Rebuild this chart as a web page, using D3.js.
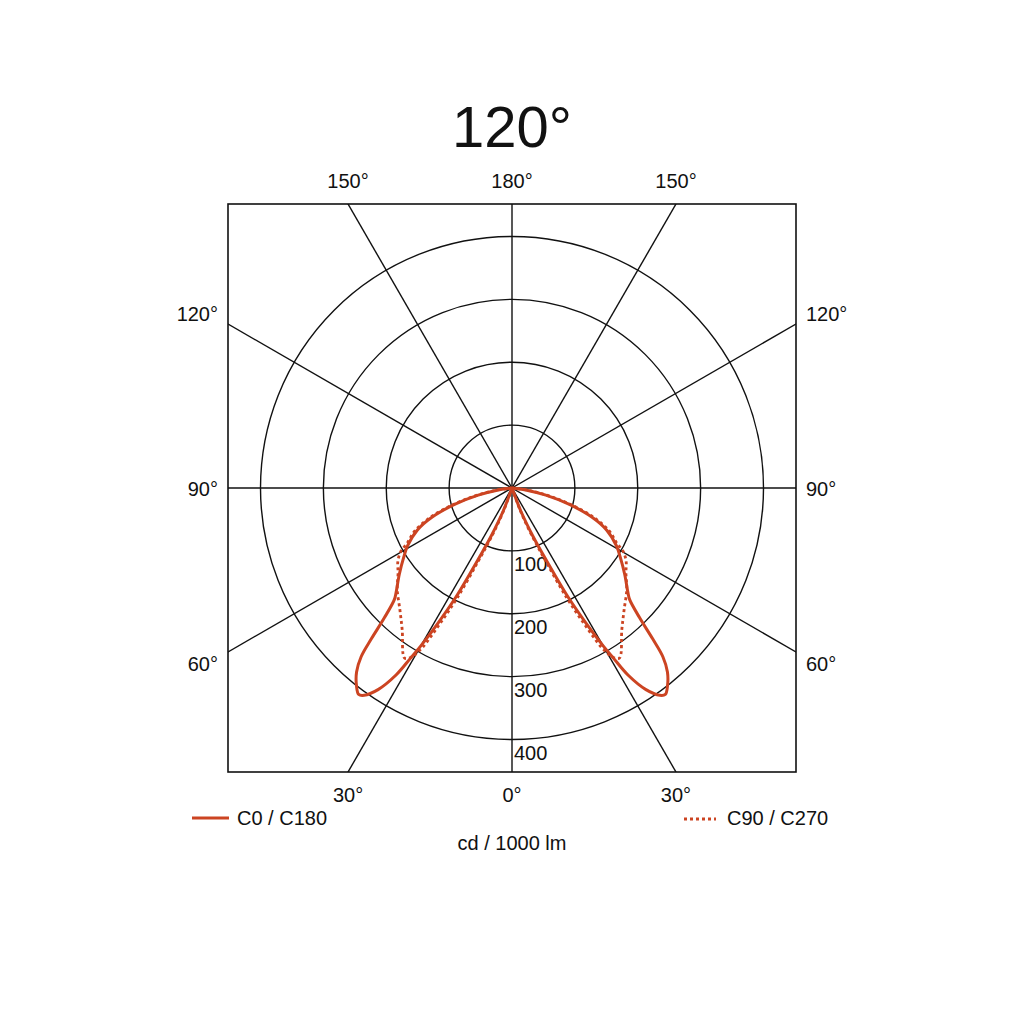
<!DOCTYPE html>
<html>
<head>
<meta charset="utf-8">
<script src="https://cdn.jsdelivr.net/npm/d3@7"></script>
<style>
  body { margin: 0; background: #fff; }
  text { font-family: "Liberation Sans", Arial, sans-serif; fill: #111; }
</style>
</head>
<body>
<div id="polar"></div>
<script>
// chart values
const title = "120°";
const gridValues = [100, 200, 300, 400];
const gridAngles = [0, 30, 60, 90, 120, 150];
const topLabels = ["150°", "180°", "150°"];
const sideLabels = ["120°", "90°", "60°"];
const bottomLabels = ["30°", "0°", "30°"];
const unitLabel = "cd / 1000 lm";
const seriesNames = ["C0 / C180", "C90 / C270"];

// gamma (deg from nadir) and intensity (cd/1000 lm), traced in order round each lobe
const c0Gamma = [20, 21, 23.5, 25.5, 27.2, 28.7, 30, 30.8, 31.8, 33.6, 35.5, 36.6, 38.2, 40.2, 41.8, 43, 44.5, 46.5, 48, 52.5, 57.5, 61, 66, 70, 74, 78, 82, 85];
const c0Values = [0, 40, 84, 130, 195, 245, 290, 315, 350, 385, 405, 409, 400, 383, 360, 328, 290, 258, 248, 226, 204, 190, 165, 135, 95, 55, 22, 0];
const c90Gamma = [19, 20.3, 22.8, 24.8, 26.5, 28, 29.3, 30.3, 31.1, 32.3, 37.8, 42.7, 48.4, 53.3, 57.2, 60.2, 62.3, 66, 70, 74, 78, 82, 86];
const c90Values = [0, 40, 84, 130, 195, 245, 290, 308, 316, 320, 285, 263, 244, 226, 216, 204, 188, 170, 140, 100, 60, 26, 0];

const width = 1024, height = 1024;
const cx = 512, cy = 488, half = 284;
const red = "#cc4422";
const rad = Math.PI / 180;

const svg = d3.select("#polar")
  .append("svg")
  .attr("width", width)
  .attr("height", height);

svg.append("defs").append("clipPath").attr("id", "box")
  .append("rect")
  .attr("x", cx - half).attr("y", cy - half)
  .attr("width", 2 * half).attr("height", 2 * half);

const r = d3.scaleLinear().domain([0, 400]).range([0, 251.5]);

const g = svg.append("g").attr("transform", "translate(" + cx + "," + cy + ")");

// grid circles
g.selectAll("circle.grid")
  .data(gridValues)
  .enter().append("circle")
  .attr("class", "grid")
  .attr("r", function (d) { return r(d); })
  .attr("fill", "none")
  .attr("stroke", "#111")
  .attr("stroke-width", 1.4);

// radial lines through the centre, clipped to the frame
svg.append("g")
  .attr("clip-path", "url(#box)")
  .append("g")
  .attr("transform", "translate(" + cx + "," + cy + ")")
  .selectAll("line")
  .data(gridAngles)
  .enter().append("line")
  .attr("x1", function (d) { return -600 * Math.sin(d * rad); })
  .attr("y1", function (d) { return 600 * Math.cos(d * rad); })
  .attr("x2", function (d) { return 600 * Math.sin(d * rad); })
  .attr("y2", function (d) { return -600 * Math.cos(d * rad); })
  .attr("stroke", "#111")
  .attr("stroke-width", 1.4);

svg.append("rect")
  .attr("x", cx - half).attr("y", cy - half)
  .attr("width", 2 * half).attr("height", 2 * half)
  .attr("fill", "none")
  .attr("stroke", "#111")
  .attr("stroke-width", 1.6);

const front = svg.append("g").attr("transform", "translate(" + cx + "," + cy + ")");

// value labels under each circle
front.selectAll("text.val")
  .data(gridValues)
  .enter().append("text")
  .attr("class", "val")
  .attr("x", 2)
  .attr("y", function (d) { return r(d) + 20; })
  .attr("font-size", 20)
  .text(function (d) { return d; });

// lobes: left half mirrors to angle pi+gamma, right half pi-gamma
function lobe(gammas, values, side) {
  return d3.lineRadial()
    .curve(d3.curveCatmullRom.alpha(0.5))
    .angle(function (d, i) { return Math.PI + side * gammas[i] * rad; })
    .radius(function (d) { return r(d); })(values);
}

[-1, 1].forEach(function (side) {
  front.append("path")
    .attr("d", lobe(c0Gamma, c0Values, side))
    .attr("fill", "none")
    .attr("stroke", red)
    .attr("stroke-width", 3)
    .attr("stroke-linejoin", "round");
  front.append("path")
    .attr("d", lobe(c90Gamma, c90Values, side))
    .attr("fill", "none")
    .attr("stroke", red)
    .attr("stroke-width", 2.8)
    .attr("stroke-dasharray", "3,3");
});

// angle labels round the frame
const sides = [-1, 0, 1];
svg.append("g").selectAll("text")
  .data(topLabels)
  .enter().append("text")
  .attr("text-anchor", "middle")
  .attr("font-size", 20)
  .attr("x", function (d, i) { return cx + sides[i] * half * Math.tan((180 - parseFloat(d)) * rad); })
  .attr("y", cy - half - 16)
  .text(function (d) { return d; });

svg.append("g").selectAll("text")
  .data(bottomLabels)
  .enter().append("text")
  .attr("text-anchor", "middle")
  .attr("font-size", 20)
  .attr("x", function (d, i) { return cx + sides[i] * half * Math.tan(parseFloat(d) * rad); })
  .attr("y", cy + half + 30)
  .text(function (d) { return d; });

[-1, 1].forEach(function (side) {
  svg.append("g").selectAll("text")
    .data(sideLabels)
    .enter().append("text")
    .attr("text-anchor", side < 0 ? "end" : "start")
    .attr("font-size", 20)
    .attr("x", cx + side * (half + 10))
    .attr("y", function (d) { return cy + 1.07 * half * Math.tan((90 - parseFloat(d)) * rad) + 8; })
    .text(function (d) { return d; });
});

// title
svg.append("text")
  .attr("x", cx)
  .attr("y", 147)
  .attr("text-anchor", "middle")
  .attr("font-size", 58)
  .text(title);

// legend
svg.append("line")
  .attr("x1", 192).attr("x2", 229).attr("y1", 818).attr("y2", 818)
  .attr("stroke", red).attr("stroke-width", 3);
svg.append("text")
  .attr("x", 237).attr("y", 825)
  .attr("font-size", 20)
  .text(seriesNames[0]);

svg.append("line")
  .attr("x1", 684).attr("x2", 716).attr("y1", 819).attr("y2", 819)
  .attr("stroke", red).attr("stroke-width", 2.8)
  .attr("stroke-dasharray", "3,3");
svg.append("text")
  .attr("x", 727).attr("y", 825)
  .attr("font-size", 20)
  .text(seriesNames[1]);

svg.append("text")
  .attr("x", cx).attr("y", 850)
  .attr("text-anchor", "middle")
  .attr("font-size", 20)
  .text(unitLabel);
</script>
</body>
</html>
